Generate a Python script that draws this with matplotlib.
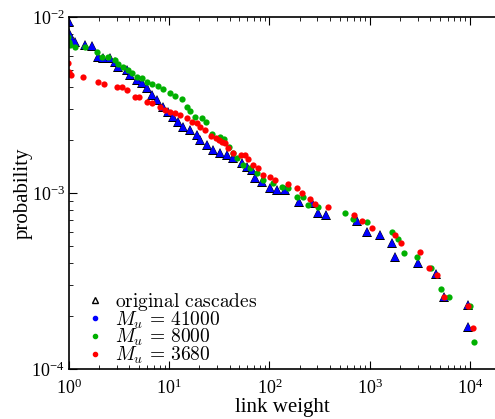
import matplotlib
matplotlib.use('Agg')
import matplotlib.pyplot as plt
from matplotlib.lines import Line2D
from matplotlib.font_manager import FontProperties

plt.rcParams['font.family'] = 'Liberation Serif'
plt.rcParams['mathtext.fontset'] = 'stix'

# M_u = 41000 (blue triangles); the original cascades sit right under them
w_blue = [1.0, 1.0, 1.07, 1.15, 1.44, 1.70, 1.95, 2.18, 2.56, 2.88, 3.08, 3.79, 4.06, 4.77,
          5.35, 6.00, 6.73, 7.55, 8.66, 9.72, 10.9, 12.2, 13.7, 16.1, 18.9, 20.3, 23.8, 27.3,
          32.1, 37.7, 43.3, 53.2, 59.7, 66.9, 71.7, 84.2, 101, 119, 143, 197, 265, 305, 366,
          746, 939, 1265, 1667, 1786, 3030, 4580, 5500, 9550, 9550]
p_blue = [0.00937, 0.00811, 0.00740, 0.00721, 0.00693, 0.00685, 0.00593, 0.00585, 0.00585,
          0.00555, 0.00520, 0.00500, 0.00468, 0.00438, 0.00422, 0.00395, 0.00361, 0.00338,
          0.00308, 0.00289, 0.00270, 0.00253, 0.00237, 0.00228, 0.00214, 0.00200, 0.00188,
          0.00176, 0.00169, 0.00164, 0.00158, 0.00148, 0.00141, 0.00135, 0.00122, 0.00115,
          0.00107, 0.00104, 0.00104, 0.000889, 0.000877, 0.000769, 0.000750, 0.000693,
          0.000600, 0.000577, 0.000520, 0.000433, 0.000400, 0.000347, 0.000257, 0.000231,
          0.000173]

w_orig = [1.0, 1.0] + w_blue[1:]
p_orig = [0.00937, 0.00740] + p_blue[1:]

# M_u = 8000
w_green = [0.98, 1.0, 1.02, 1.15, 1.44, 1.90, 2.13, 2.45, 2.88, 3.08, 3.46, 3.88, 4.25, 4.77,
           5.35, 6.00, 6.73, 7.72, 8.66, 10.2, 11.4, 13.4, 15.0, 16.1, 18.1, 21.2, 23.3, 26.7,
           32.1, 35.2, 39.5, 43.3, 47.4, 54.4, 63.9, 75.0, 86.1, 108, 133, 153, 188, 216, 242,
           305, 566, 681, 939, 1667, 1914, 2198, 2958, 4083, 5140, 6180, 10000, 10960]
p_green = [0.00769, 0.00721, 0.00693, 0.00676, 0.00676, 0.00632, 0.00593, 0.00593, 0.00570,
           0.00541, 0.00520, 0.00500, 0.00481, 0.00456, 0.00450, 0.00427, 0.00416, 0.00405,
           0.00390, 0.00370, 0.00356, 0.00342, 0.00308, 0.00292, 0.00270, 0.00267, 0.00253,
           0.00216, 0.00208, 0.00203, 0.00183, 0.00169, 0.00158, 0.00144, 0.00139, 0.00130,
           0.00119, 0.00114, 0.00108, 0.00107, 0.000948, 0.000948, 0.000855, 0.000832,
           0.000769, 0.000711, 0.000684, 0.000600, 0.000548, 0.000456, 0.000433, 0.000375,
           0.000285, 0.000257, 0.000228, 0.000142]

# M_u = 3680
w_red = [0.98, 1.0, 1.05, 1.38, 1.95, 2.23, 3.01, 3.38, 3.79, 4.55, 4.99, 6.00, 6.73, 8.09,
         9.07, 10.2, 11.4, 12.8, 15.0, 16.9, 18.9, 20.3, 22.7, 26.1, 29.3, 31.4, 33.6, 36.0,
         38.5, 43.3, 52.0, 57.0, 61.1, 68.4, 76.8, 86.1, 101, 114, 153, 188, 211, 254, 284,
         383, 697, 837, 1052, 1786, 2051, 3170, 3900, 4690, 5500, 9550, 10720]
p_red = [0.00548, 0.00487, 0.00468, 0.00456, 0.00427, 0.00416, 0.00400, 0.00400, 0.00385,
         0.00351, 0.00351, 0.00329, 0.00325, 0.00308, 0.00296, 0.00289, 0.00285, 0.00278,
         0.00267, 0.00253, 0.00250, 0.00237, 0.00228, 0.00211, 0.00205, 0.00200, 0.00195,
         0.00192, 0.00180, 0.00169, 0.00164, 0.00164, 0.00156, 0.00144, 0.00139, 0.00126,
         0.00123, 0.00119, 0.00112, 0.00107, 0.00100, 0.000925, 0.000866, 0.000832,
         0.000750, 0.000693, 0.000633, 0.000577, 0.000520, 0.000462, 0.000375, 0.000342,
         0.000257, 0.000228, 0.000171]

labels = [r'$\mathrm{original\ cascades}$', r'$M_u\, =\, 41000$', r'$M_u\, =\, 8000$',
          r'$M_u\, =\, 3680$']

fig = plt.figure(figsize=(4.95, 4.19), dpi=100)
ax = fig.add_axes([0.1394, 0.1193, 0.8606, 0.8401])

ax.plot(w_orig, p_orig, '^', color='black', markersize=7.5, markeredgewidth=0)
ax.plot(w_blue, p_blue, '^', color='blue', markersize=6, markeredgewidth=0)
ax.plot(w_green, p_green, 'o', color='#00b000', markersize=4.5, markeredgewidth=0)
ax.plot(w_red, p_red, 'o', color='red', markersize=4.5, markeredgewidth=0)

ax.set_xscale('log')
ax.set_yscale('log')
ax.set_xlim(1, 10 ** 4.25)
ax.set_ylim(1e-4, 1e-2)
ax.spines['right'].set_visible(False)
for s in ['left', 'top', 'bottom']:
    ax.spines[s].set_linewidth(1.2)
ax.tick_params(which='both', direction='in', top=True, right=False, labelsize=13)
ax.tick_params(which='major', length=6)
ax.tick_params(which='minor', length=3)
ax.tick_params(axis='x', pad=7)
ax.tick_params(axis='y', pad=3)

ax.set_xlabel('link weight', fontsize=15, labelpad=0)
ax.set_ylabel('probability', fontsize=15)
ax.yaxis.set_label_coords(-0.085, 0.5)

handles = [
    Line2D([], [], linestyle='none', marker='^', markerfacecolor='none', markeredgecolor='black',
           markersize=4.5),
    Line2D([], [], linestyle='none', marker='o', color='blue', markersize=3),
    Line2D([], [], linestyle='none', marker='o', color='#00b000', markersize=3),
    Line2D([], [], linestyle='none', marker='o', color='red', markersize=3),
]
ax.legend(handles, labels, loc='lower left', bbox_to_anchor=(0.152, 0.103),
          bbox_transform=fig.transFigure, frameon=False,
          prop=FontProperties(size=14, math_fontfamily='cm'), handlelength=1,
          handletextpad=0.55, labelspacing=-0.18, borderpad=0)

fig.savefig('out.png', dpi=100)
